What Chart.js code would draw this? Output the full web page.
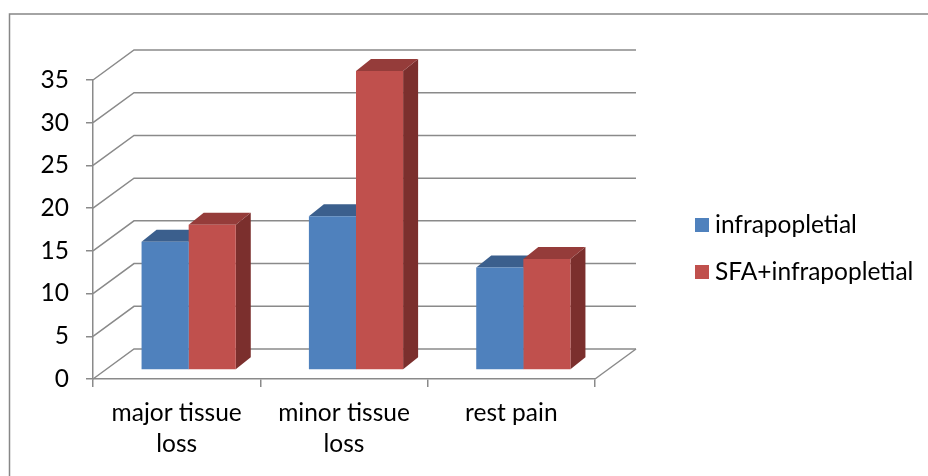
<!DOCTYPE html>
<html>
<head>
<meta charset="utf-8">
<script src="https://cdn.jsdelivr.net/npm/chart.js@4.4.1/dist/chart.umd.min.js"></script>
<style>
  html, body { margin: 0; padding: 0; background: #ffffff; }
  #wrap { position: relative; width: 928px; height: 476px; }
</style>
</head>
<body>
<div id="wrap"><canvas id="chart" width="928" height="476"></canvas></div>
<script>
// Categories and series values
const categories = [['major tissue', 'loss'], ['minor tissue', 'loss'], 'rest pain'];
const seriesNames = ['infrapopletial', 'SFA+infrapopletial'];
const infrapopletial = [15, 18, 12];
const sfaInfrapopletial = [17, 35, 13];
const yMin = 0;
const yMax = 35;
const yStep = 5;

// Oblique 3D look: back wall offset, bar plane offset and bar depth (pixels)
const WALL = { dx: 41, dy: -30 };
const BAR_PLANE = { dx: 12, dy: -9 };
const BAR_DEPTH = { dx: 15, dy: -12 };
const GRID_COLOR = '#8a8a8a';
const FONT = 'Lato, "Liberation Sans", sans-serif';
const FONT_SIZE = 24.5;

const palette = [
  { front: '#4f81bd', top: '#3b5f8d', side: '#36567f' },
  { front: '#c0504d', top: '#953c3a', side: '#7b2f2d' }
];

function poly(ctx, pts, fill) {
  ctx.beginPath();
  ctx.moveTo(pts[0][0], pts[0][1]);
  for (let i = 1; i < pts.length; i++) ctx.lineTo(pts[i][0], pts[i][1]);
  ctx.closePath();
  ctx.fillStyle = fill;
  ctx.fill();
}

const box3d = {
  id: 'box3d',
  beforeDraw(chart) {
    const ctx = chart.ctx;
    ctx.save();
    ctx.strokeStyle = '#878787';
    ctx.lineWidth = 1.5;
    ctx.strokeRect(9.5, 14, 1000, 1000);
    ctx.restore();
  },
  beforeDatasetsDraw(chart) {
    const ctx = chart.ctx;
    const { left, right, bottom } = chart.chartArea;
    const y = chart.scales.y;
    ctx.save();
    ctx.strokeStyle = GRID_COLOR;
    ctx.lineWidth = 1.5;
    // side-wall diagonals and back-wall gridlines
    y.ticks.forEach(t => {
      const py = y.getPixelForValue(t.value);
      ctx.beginPath();
      ctx.moveTo(left, py);
      ctx.lineTo(left + WALL.dx, py + WALL.dy);
      ctx.lineTo(right + WALL.dx, py + WALL.dy);
      ctx.stroke();
    });
    // right edge of the floor
    ctx.beginPath();
    ctx.moveTo(right, bottom);
    ctx.lineTo(right + WALL.dx, bottom + WALL.dy);
    ctx.stroke();
    ctx.restore();

    // bars sit in the middle of the depth; draw their tops and sides first
    ctx.save();
    ctx.translate(BAR_PLANE.dx, BAR_PLANE.dy);
    chart.data.datasets.forEach((ds, di) => {
      const meta = chart.getDatasetMeta(di);
      const c = palette[di];
      meta.data.forEach(bar => {
        const p = bar.getProps(['x', 'y', 'base', 'width'], true);
        const x0 = p.x - p.width / 2, x1 = p.x + p.width / 2;
        const dx = BAR_DEPTH.dx, dy = BAR_DEPTH.dy;
        poly(ctx, [[x1, p.y], [x1 + dx, p.y + dy], [x1 + dx, p.base + dy], [x1, p.base]], c.side);
        poly(ctx, [[x0, p.y], [x1, p.y], [x1 + dx, p.y + dy], [x0 + dx, p.y + dy]], c.top);
      });
    });
    // keep the translation for the bar fronts drawn by Chart.js
  },
  afterDatasetsDraw(chart) {
    chart.ctx.restore();
  },
  afterDraw(chart) {
    // legend on the right
    const ctx = chart.ctx;
    ctx.save();
    ctx.font = FONT_SIZE + 'px ' + FONT;
    ctx.textBaseline = 'middle';
    ctx.textAlign = 'left';
    const x = 695, y0 = 225, gap = 47, box = 14;
    chart.data.datasets.forEach((ds, i) => {
      const cy = y0 + i * gap;
      ctx.fillStyle = ds.backgroundColor;
      ctx.fillRect(x, cy - box / 2, box, box);
      ctx.fillStyle = '#000000';
      ctx.fillText(ds.label, x + box + 6, cy);
    });
    ctx.restore();
  }
};

new Chart(document.getElementById('chart'), {
  type: 'bar',
  data: {
    labels: categories,
    datasets: [
      { label: seriesNames[0], data: infrapopletial, backgroundColor: palette[0].front, clip: false },
      { label: seriesNames[1], data: sfaInfrapopletial, backgroundColor: palette[1].front, clip: false }
    ]
  },
  options: {
    responsive: false,
    animation: false,
    devicePixelRatio: 1,
    events: [],
    layout: { padding: { left: 10, top: 80, right: 333, bottom: 0 } },
    datasets: { bar: { categoryPercentage: 0.563, barPercentage: 1.0, borderWidth: 0 } },
    plugins: { legend: { display: false }, tooltip: { enabled: false } },
    scales: {
      x: {
        type: 'category',
        offset: true,
        grid: { offset: true, display: true, drawOnChartArea: false, drawTicks: true, tickLength: 8, color: GRID_COLOR, lineWidth: 1.5 },
        border: { display: true, color: GRID_COLOR, width: 1.5 },
        ticks: { color: '#000000', font: { family: FONT, size: FONT_SIZE, lineHeight: 1.28 }, padding: 10, maxRotation: 0, autoSkip: false },
        afterFit(s) { s.height = 97; }
      },
      y: {
        min: yMin,
        max: yMax,
        grid: { display: true, drawOnChartArea: false, drawTicks: true, tickLength: 7, color: GRID_COLOR, lineWidth: 1.5 },
        border: { display: true, color: GRID_COLOR, width: 1.5 },
        ticks: { stepSize: yStep, color: '#000000', font: { family: FONT, size: FONT_SIZE }, padding: 17 },
        afterFit(s) { s.width = 83; }
      }
    }
  },
  plugins: [box3d]
});
</script>
</body>
</html>
